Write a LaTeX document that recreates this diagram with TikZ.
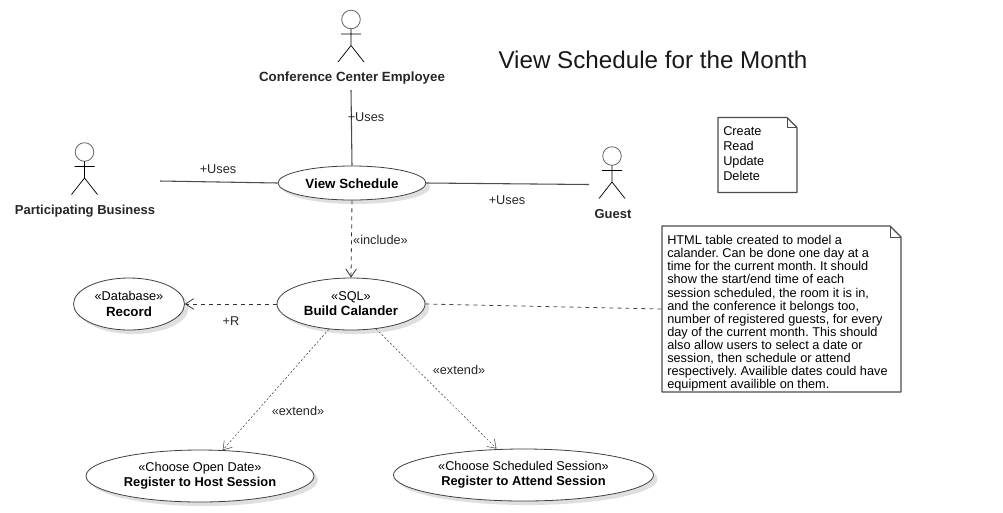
\documentclass[tikz,border=0pt]{standalone}
\usepackage{fontspec}
\setmainfont{Liberation Sans}
\usetikzlibrary{arrows.meta,shapes.geometric,shadows}
\frenchspacing

\newcommand{\notefold}[2]{%
  \draw[noteline] (#1.north west) -- ([xshift=-#2]#1.north east)
    -- ([yshift=-#2]#1.north east) -- (#1.south east) -- (#1.south west) -- cycle;
  \draw[foldline] ([xshift=-#2]#1.north east) |- ([yshift=-#2]#1.north east);
}
\newcommand{\casename}[1]{{\fontsize{10pt}{11pt}\selectfont\bfseries #1}}
\newcommand{\longcasename}[1]{{\fontsize{9.65pt}{11pt}\selectfont\bfseries #1}}

\begin{document}
\begin{tikzpicture}[
    x=0.75pt, y=-0.75pt,
    font=\fontsize{9.55pt}{9.85pt}\selectfont,
    actorlabel/.style = {font=\fontsize{9.75pt}{11pt}\selectfont\bfseries, text=black!85},
    usecase/.style    = {draw=black!75, line width=0.6pt, ellipse, fill=white,
                         align=center, inner sep=0pt,
                         execute at begin node=\rule{0pt}{9pt},
                         drop shadow={shadow xshift=3pt, shadow yshift=-3pt,
                                      fill=gray!25, opacity=1}},
    noteshape/.style  = {fill=white, inner sep=0pt, outer sep=0pt},
    notetext/.style   = {inner sep=0pt, align=left},
    noteline/.style   = {draw=black!70, line width=0.8pt, line join=round},
    foldline/.style   = {draw=black!70, line width=0.6pt},
    tag/.style        = {text=black!85},
    assoc/.style      = {draw=black!70, line width=0.8pt},
    dep/.style        = {draw=black!80, dashed, line width=0.6pt,
                         -{Straight Barb[length=6pt,width=8pt]}},
    thindep/.style    = {draw=black!80, dash pattern=on 1.5pt off 1.5pt, line width=0.35pt,
                         -{Straight Barb[length=6pt,width=8pt]}},
    notelink/.style   = {draw=black!70, dashed, line width=0.6pt},
    actor/.pic = {
      \draw[draw=black!60, line width=0.6pt] (0,0) circle (9.3);
      \draw[draw=black, line width=0.55pt] (0,9.3) -- (0,26) (-10,14.5) -- (10,14.5)
        (-13,42.5) -- (0,26) -- (13,42.5);
    },
  ]

  \useasboundingbox[fill=white] (0,0) rectangle (1003,512);

  \node[font=\fontsize{18.15pt}{20pt}\selectfont, text=black!90] (title) at (653,60) {View Schedule for the Month};

  \pic at (351,19.5) {actor};
  \pic at (84.5,152) {actor};
  \pic at (612,156) {actor};
  \node[actorlabel, font=\fontsize{10pt}{11pt}\selectfont\bfseries] (employee) at (352,78.5) {Conference Center Employee};
  \node[actorlabel] (business) at (85,211) {Participating Business};
  \node[actorlabel] (guest) at (613,214) {Guest};
  \coordinate (employeeend) at (351,90);
  \coordinate (businessend) at (160,181);
  \coordinate (guestend) at (589,184.5);

  \node[usecase, minimum width=111pt, minimum height=25.5pt, font=\fontsize{10pt}{11pt}\selectfont\bfseries] (view) at (352,183) {View Schedule};
  \node[usecase, minimum width=111pt, minimum height=39pt] (build) at (351,304) {«SQL»\\[1.5pt]\casename{Build Calander}};
  \node[usecase, minimum width=83.25pt, minimum height=39pt] (record) at (129,304) {«Database»\\[1.5pt]\casename{Record}};
  \node[usecase, minimum width=171pt, minimum height=39pt] (host) at (200,476) {«Choose Open Date»\\[1.5pt]\longcasename{Register to Host Session}};
  \node[usecase, minimum width=195pt, minimum height=39pt] (attend) at (523.5,475) {«Choose Scheduled Session»\\[1.5pt]\longcasename{Register to Attend Session}};

  \node[noteshape, minimum width=59.25pt, minimum height=56.25pt] (crud) at (757.5,155) {};
  \node[noteshape, minimum width=179.25pt, minimum height=124.5pt] (html) at (781.5,309) {};
  \notefold{crud}{7.5pt}
  \notefold{html}{8.25pt}
  \node[notetext, font=\fontsize{9.55pt}{11.25pt}\selectfont, anchor=north west] (crudtext) at (723,126.5) {Create\\Read\\Update\\Delete};
  \node[notetext, anchor=north west] (htmltext) at (667,235)
    {HTML table created to model a\\calander. Can be done one day at a\\time for the current month. It should\\show the start/end time of each\\session scheduled, the room it is in,\\and the conference it belongs too,\\number of registered guests, for every\\day of the current month. This should\\also allow users to select a date or\\session, then schedule or attend\\respectively. Availible dates could have\\equipment availible on them.};

  \draw[assoc] (employeeend) -- (view.north);
  \draw[assoc] (businessend) -- (view.west);
  \draw[assoc] (view.east) -- (guestend);
  \draw[dep] (view.south) -- (build.north);
  \draw[dep] (build.west) -- (record.east);
  \draw[thindep] (build) -- (host);
  \draw[thindep] (build) -- ([xshift=-20.25pt]attend.north);
  \draw[notelink] (build.east) -- (html.west);

  \node[tag] (usestop) at (366,117) {+Uses};
  \node[tag] (usesleft) at (218,169) {+Uses};
  \node[tag] (usesright) at (507,200) {+Uses};
  \node[tag] (include) at (380.5,240) {«include»};
  \node[tag] (readtag) at (231,321) {+R};
  \node[tag] (extendhost) at (298,411) {«extend»};
  \node[tag] (extendattend) at (459,370) {«extend»};

\end{tikzpicture}
\end{document}
